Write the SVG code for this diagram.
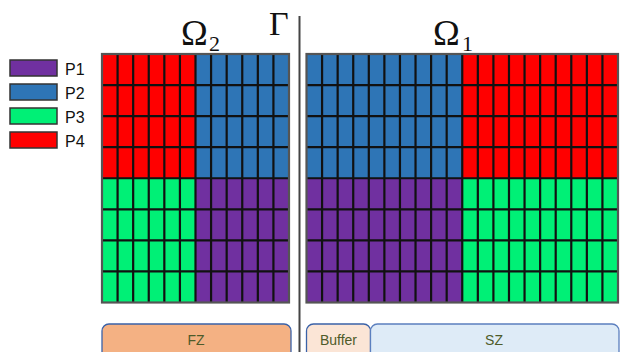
<svg xmlns="http://www.w3.org/2000/svg" width="621" height="352" viewBox="0 0 621 352">
<style>
.lg{stroke:#333;stroke-width:1.5}
.lt{font-family:"Liberation Sans",Arial,sans-serif;font-size:16px;fill:#111}
.grid{fill:none;stroke:#111;stroke-width:2.2}
.outer{fill:none;stroke:#555;stroke-width:2.2}
.math{font-family:"Liberation Serif","DejaVu Serif",serif;fill:#111}
.bt{font-family:"Liberation Sans",Arial,sans-serif;font-size:14px;fill:#4E5B2A;text-anchor:middle}
.p1{fill:#7030A0}.p2{fill:#2E75B6}.p3{fill:#00F076}.p4{fill:#FF0000}
</style>
<rect width="621" height="352" fill="#fff"/>
<g id="legend">
<rect class="lg p1" x="10" y="60" width="47" height="16"/>
<rect class="lg p2" x="10" y="84" width="47" height="16"/>
<rect class="lg p3" x="10" y="108" width="47" height="16"/>
<rect class="lg p4" x="10" y="132" width="47" height="16"/>
<text class="lt" x="65" y="75">P1</text>
<text class="lt" x="65" y="99">P2</text>
<text class="lt" x="65" y="123">P3</text>
<text class="lt" x="65" y="147">P4</text>
</g>
<g id="omega2">
<rect class="p4" x="102" y="54" width="93.5" height="124.25"/>
<rect class="p2" x="195.5" y="54" width="93.5" height="124.25"/>
<rect class="p3" x="102" y="178.25" width="93.5" height="124.25"/>
<rect class="p1" x="195.5" y="178.25" width="93.5" height="124.25"/>
<path class="grid" d="M117.58 54V302.5M133.17 54V302.5M148.75 54V302.5M164.33 54V302.5M179.92 54V302.5M195.5 54V302.5M211.08 54V302.5M226.67 54V302.5M242.25 54V302.5M257.83 54V302.5M273.42 54V302.5M102 85.06H289M102 116.12H289M102 147.19H289M102 178.25H289M102 209.31H289M102 240.37H289M102 271.44H289"/>
<rect class="outer" x="102" y="54" width="187" height="248.5"/>
<text class="math" x="181" y="45" font-size="36">Ω</text>
<text class="math" x="209" y="51" font-size="22">2</text>
</g>
<g id="omega1">
<rect class="p2" x="306.5" y="54" width="155.75" height="124.25"/>
<rect class="p4" x="462.25" y="54" width="155.75" height="124.25"/>
<rect class="p1" x="306.5" y="178.25" width="155.75" height="124.25"/>
<rect class="p3" x="462.25" y="178.25" width="155.75" height="124.25"/>
<path class="grid" d="M322.08 54V302.5M337.65 54V302.5M353.23 54V302.5M368.8 54V302.5M384.38 54V302.5M399.95 54V302.5M415.53 54V302.5M431.1 54V302.5M446.68 54V302.5M462.25 54V302.5M477.83 54V302.5M493.4 54V302.5M508.98 54V302.5M524.55 54V302.5M540.13 54V302.5M555.7 54V302.5M571.28 54V302.5M586.85 54V302.5M602.43 54V302.5M306.5 85.06H618M306.5 116.12H618M306.5 147.19H618M306.5 178.25H618M306.5 209.31H618M306.5 240.37H618M306.5 271.44H618"/>
<rect class="outer" x="306.5" y="54" width="311.5" height="248.5"/>
<text class="math" x="433" y="45" font-size="36">Ω</text>
<text class="math" x="462" y="51" font-size="22">1</text>
</g>
<g id="interface">
<line x1="299.5" y1="16" x2="299.5" y2="352" stroke="#444" stroke-width="2"/>
<text class="math" x="269" y="35" font-size="34">Γ</text>
</g>
<g id="fz">
<rect x="102" y="324" width="189" height="40" rx="7" fill="#F4B183" stroke="#3A62A8" stroke-width="1.3"/>
<text class="bt" x="196" y="345">FZ</text>
</g>
<g id="buffer">
<rect x="306.5" y="324" width="64" height="40" rx="7" fill="#FBE5D6" stroke="#3A62A8" stroke-width="1.3"/>
<text class="bt" x="338.5" y="345">Buffer</text>
</g>
<g id="sz">
<rect x="370.5" y="324" width="248.5" height="40" rx="7" fill="#DEEBF7" stroke="#5B7FBF" stroke-width="1.3"/>
<text class="bt" x="494" y="345">SZ</text>
</g>
</svg>
